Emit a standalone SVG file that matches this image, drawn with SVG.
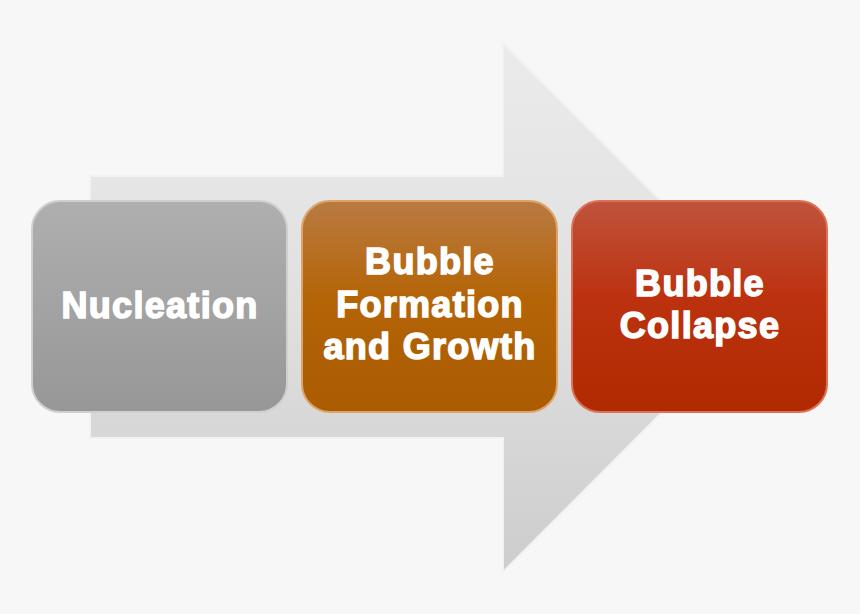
<svg xmlns="http://www.w3.org/2000/svg" width="860" height="614" viewBox="0 0 860 614">
  <defs>
    <linearGradient id="gArrow" x1="0" y1="0" x2="0" y2="1">
      <stop offset="0" stop-color="#ebebeb"/>
      <stop offset="0.5" stop-color="#e0e0e0"/>
      <stop offset="1" stop-color="#cdcdcd"/>
    </linearGradient>
    <linearGradient id="gGray" x1="0" y1="0" x2="0" y2="1">
      <stop offset="0" stop-color="#afafaf"/>
      <stop offset="1" stop-color="#979797"/>
    </linearGradient>
    <linearGradient id="gOrange" x1="0" y1="0" x2="0" y2="1">
      <stop offset="0" stop-color="#b97a42"/>
      <stop offset="0.45" stop-color="#b56508"/>
      <stop offset="1" stop-color="#ab5b00"/>
    </linearGradient>
    <linearGradient id="gRed" x1="0" y1="0" x2="0" y2="1">
      <stop offset="0" stop-color="#c0533b"/>
      <stop offset="0.45" stop-color="#bc3210"/>
      <stop offset="1" stop-color="#b02a00"/>
    </linearGradient>
  </defs>
  <style>
    .box { stroke-width: 2; }
    .lbl { font-family: "Liberation Sans", Arial, sans-serif; font-weight: bold; font-size: 36px; fill: #ffffff; stroke: #ffffff; stroke-width: 1.5; text-anchor: middle; letter-spacing: 1.3px; }
  </style>
  <rect x="0" y="0" width="860" height="614" fill="#f7f7f7"/>
  <g id="arrow">
    <path d="M90,176 L503,176 L503,43 L767,307 L503,572 L503,438 L90,438 Z" fill="url(#gArrow)" stroke="#f2f2f2" stroke-width="2"/>
  </g>
  <g id="connectors"></g>
  <g id="nucleation">
    <rect class="box" x="32" y="201" width="255" height="211" rx="28" fill="url(#gGray)" stroke="#cfcfcf"/>
    <text class="lbl" x="160" y="318">Nucleation</text>
  </g>
  <g id="formation">
    <rect class="box" x="302" y="201" width="255" height="211" rx="28" fill="url(#gOrange)" stroke="#dca468"/>
    <text class="lbl" x="430" y="274">Bubble</text>
    <text class="lbl" x="430" y="317">Formation</text>
    <text class="lbl" x="430" y="359">and Growth</text>
  </g>
  <g id="collapse">
    <rect class="box" x="572" y="201" width="255" height="211" rx="28" fill="url(#gRed)" stroke="#dc7058"/>
    <text class="lbl" x="700" y="296">Bubble</text>
    <text class="lbl" x="700" y="338">Collapse</text>
  </g>
</svg>
